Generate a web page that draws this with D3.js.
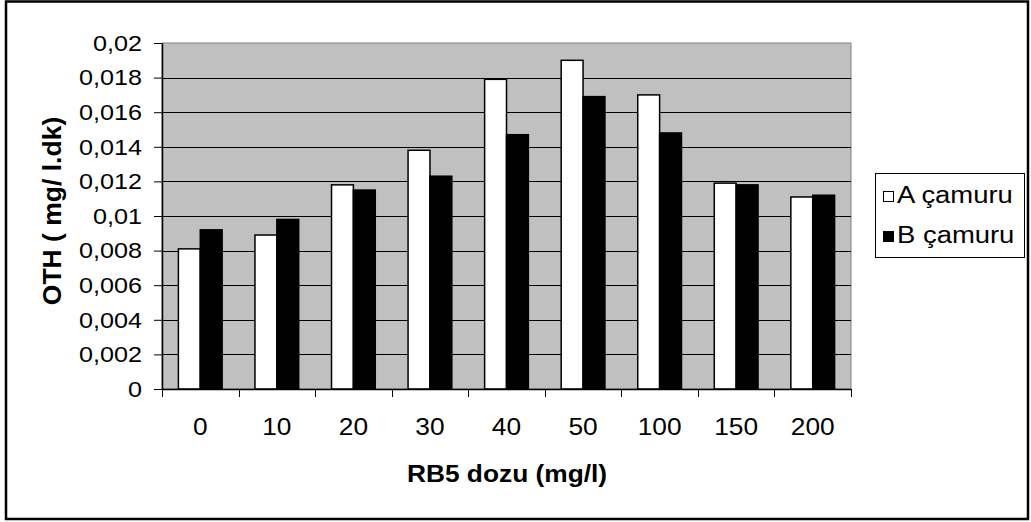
<!DOCTYPE html>
<html>
<head>
<meta charset="utf-8">
<script src="https://cdn.jsdelivr.net/npm/d3@7"></script>
<style>
  html, body { margin: 0; padding: 0; background: #fff; }
  svg { display: block; font-family: "Liberation Sans", Arial, sans-serif; }
</style>
</head>
<body>
<svg id="chart" width="1031" height="522"></svg>
<script>
// RB5 dose categories (mg/l)
const categories = ["0", "10", "20", "30", "40", "50", "100", "150", "200"];
// Series names
const seriesNames = ["A çamuru", "B çamuru"];
// OTH values (mg/ l.dk) per dose
const sludgeA = [0.0081, 0.0089, 0.0118, 0.0138, 0.0179, 0.0190, 0.0170, 0.0119, 0.0111];
const sludgeB = [0.0092, 0.0098, 0.0115, 0.0123, 0.0147, 0.0169, 0.0148, 0.0118, 0.0112];
// Y tick values and their labels
const yTickValues = [0, 0.002, 0.004, 0.006, 0.008, 0.01, 0.012, 0.014, 0.016, 0.018, 0.02];
const yTickLabels = ["0", "0,002", "0,004", "0,006", "0,008", "0,01", "0,012", "0,014", "0,016", "0,018", "0,02"];

const seriesValues = [sludgeA, sludgeB];
const seriesFill = ["#ffffff", "#000000"];
const table = categories.map((c, i) => ({
  cat: c,
  vals: seriesNames.map((s, j) => ({ key: s, value: seriesValues[j][i], fill: seriesFill[j] }))
}));

const svg = d3.select("#chart");
const plot = { left: 162, right: 851, top: 43, bottom: 389 };
const sx = 1.12; // horizontal text stretch

// outer frame
svg.append("rect")
  .attr("x", 6).attr("y", 1.5).attr("width", 1022).attr("height", 517.5)
  .attr("fill", "#fff").attr("stroke", "#000").attr("stroke-width", 2.5);

const x0 = d3.scaleBand().domain(categories).range([plot.left, plot.right]).padding(0);
const x1 = d3.scaleBand().domain(seriesNames).range([0, x0.bandwidth()])
  .paddingInner(0).paddingOuter(0.75);
const y = d3.scaleLinear().domain([0, 0.02]).range([plot.bottom, plot.top]);

// plot background
svg.append("rect")
  .attr("x", plot.left).attr("y", plot.top)
  .attr("width", plot.right - plot.left).attr("height", plot.bottom - plot.top)
  .attr("fill", "#c0c0c0").attr("stroke", "#808080").attr("stroke-width", 1);

// horizontal gridlines
svg.append("g").selectAll("line")
  .data(yTickValues.slice(1, -1))
  .join("line")
  .attr("x1", plot.left).attr("x2", plot.right)
  .attr("y1", d => Math.round(y(d)) + 0.5).attr("y2", d => Math.round(y(d)) + 0.5)
  .attr("stroke", "#000").attr("stroke-width", 1);

// bars
const groups = svg.append("g").selectAll("g")
  .data(table)
  .join("g")
  .attr("transform", d => `translate(${x0(d.cat)},0)`);

groups.selectAll("rect")
  .data(d => d.vals)
  .join("rect")
  .attr("x", d => x1(d.key))
  .attr("y", d => y(d.value))
  .attr("width", x1.bandwidth())
  .attr("height", d => y(0) - y(d.value))
  .attr("fill", d => d.fill)
  .attr("stroke", "#000").attr("stroke-width", 1.5);

// y axis
const yAxis = d3.axisLeft(y)
  .tickValues(yTickValues)
  .tickFormat((d, i) => yTickLabels[i])
  .tickSize(8).tickSizeOuter(0);
const gy = svg.append("g")
  .attr("transform", `translate(${plot.left},0)`)
  .call(yAxis);
gy.select(".domain").attr("stroke", "#000").attr("stroke-width", 1.5);
gy.selectAll(".tick line").attr("stroke", "#000");
gy.selectAll(".tick text")
  .attr("x", -20 / sx)
  .attr("transform", `scale(${sx},1)`)
  .attr("font-size", 22.5).attr("fill", "#000");

// x axis: baseline and boundary ticks
const xAxisG = svg.append("g").attr("transform", `translate(0,${plot.bottom})`);
xAxisG.append("line")
  .attr("x1", plot.left).attr("x2", plot.right)
  .attr("y1", 0.5).attr("y2", 0.5)
  .attr("stroke", "#000").attr("stroke-width", 1.5);
const boundaries = categories.map(c => x0(c)).concat([x0(categories[categories.length - 1]) + x0.bandwidth()]);
xAxisG.selectAll("line.bt")
  .data(boundaries)
  .join("line").attr("class", "bt")
  .attr("x1", d => Math.round(d) + 0.5).attr("x2", d => Math.round(d) + 0.5)
  .attr("y1", 0).attr("y2", 8)
  .attr("stroke", "#000").attr("stroke-width", 1);

const xAxis = d3.axisBottom(x0).tickSize(0).tickSizeOuter(0);
const gx = svg.append("g")
  .attr("transform", `translate(0,${plot.bottom})`)
  .call(xAxis);
gx.select(".domain").remove();
gx.selectAll(".tick text")
  .attr("y", 0).attr("dy", null)
  .attr("transform", `translate(0,46) scale(${sx},1)`)
  .attr("text-anchor", "middle")
  .attr("font-size", 23.5).attr("fill", "#000");

// axis titles
svg.append("text")
  .attr("transform", `translate(507,482) scale(${sx},1)`)
  .attr("text-anchor", "middle")
  .attr("font-size", 23.5).attr("font-weight", "bold")
  .text("RB5 dozu (mg/l)");

svg.append("text")
  .attr("transform", `translate(61,211) rotate(-90)`)
  .attr("text-anchor", "middle")
  .attr("font-size", 26.5).attr("font-weight", "bold")
  .text("OTH ( mg/ l.dk)");

// legend
const legend = svg.append("g");
legend.append("rect")
  .attr("x", 875.5).attr("y", 173.5).attr("width", 149).attr("height", 84)
  .attr("fill", "#fff").attr("stroke", "#000").attr("stroke-width", 1);
const items = legend.selectAll("g.item")
  .data(seriesNames)
  .join("g").attr("class", "item")
  .attr("transform", (d, i) => `translate(883,${197 + i * 40})`);
items.append("rect")
  .attr("x", 0.5).attr("y", -5.5).attr("width", 10).attr("height", 10)
  .attr("fill", (d, i) => seriesFill[i]).attr("stroke", "#000").attr("stroke-width", 1);
items.append("text")
  .attr("transform", `translate(14,6) scale(${sx},1)`)
  .attr("font-size", 24.5).attr("fill", "#000")
  .text(d => d);
</script>
</body>
</html>
